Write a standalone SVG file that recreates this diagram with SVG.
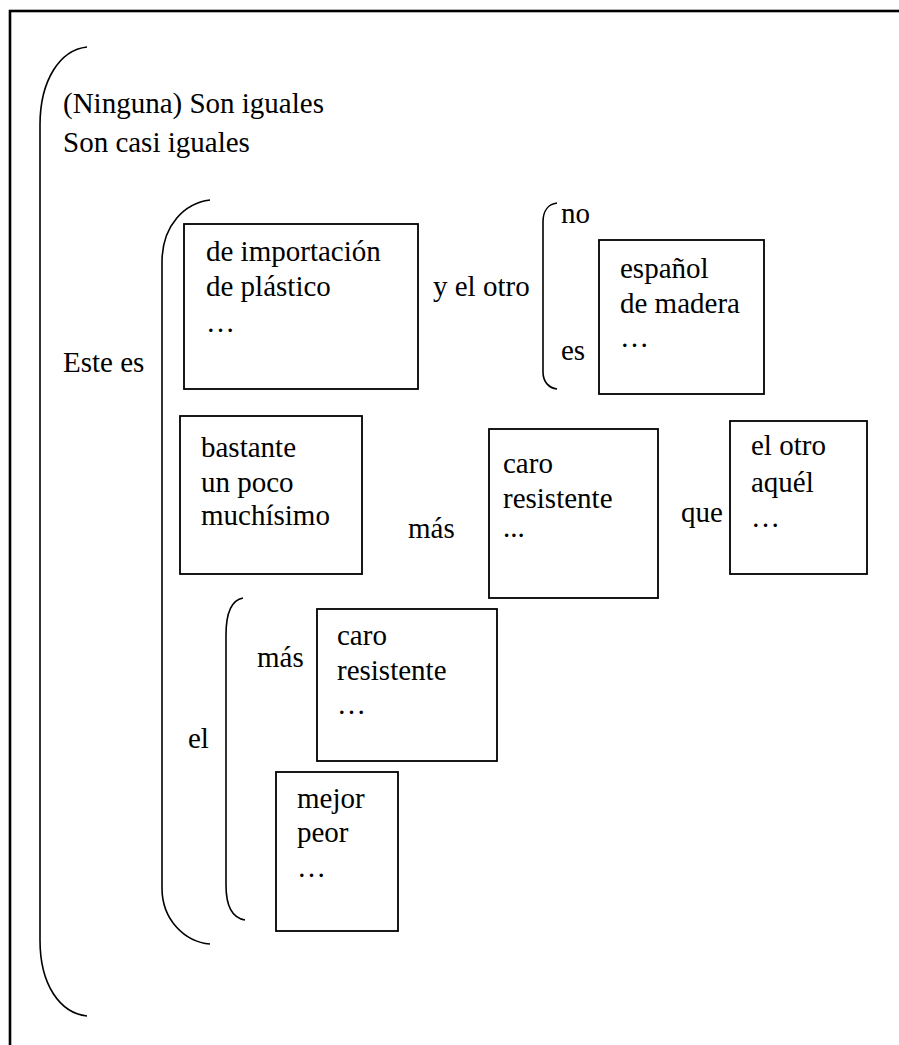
<svg xmlns="http://www.w3.org/2000/svg" width="899" height="1045" viewBox="0 0 899 1045">
  <style>
    .lbl { font-family: "Times New Roman", "Liberation Serif", Tinos, "Noto Serif", "DejaVu Serif", serif; font-size: 29px; fill: #000; }
    .box { fill: none; stroke: #000; stroke-width: 1.8; }
    .brace { fill: none; stroke: #000; stroke-width: 1.6; }
    .frame { fill: none; stroke: #000; stroke-width: 2.6; }
  </style>
  <rect width="899" height="1045" fill="#fff"/>
  <!-- page frame (right and bottom edges run off the sheet) -->
  <rect class="frame" x="10" y="11" width="910" height="1060"/>

  <!-- grouping brackets -->
  <g id="brackets">
    <path class="brace" d="M87,47 C60,50 40,80 40,125 V940 C40,985 60,1013 87,1016"/>
    <path class="brace" d="M210,200 C185,203 162,225 162,262 V888 C162,920 185,942 210,944"/>
    <path class="brace" d="M243,598 C232,600 226,612 226,635 V885 C226,905 232,918 245,920"/>
    <path class="brace" d="M557,203 C549,204 543,210 543,222 V372 C543,382 549,388 557,389"/>
  </g>

  <g class="lbl">
    <g id="intro">
      <text x="63" y="113">(Ninguna) Son iguales</text>
      <text x="63" y="152">Son casi iguales</text>
    </g>

    <g id="este-es">
      <text x="63" y="372">Este es</text>
    </g>

    <g id="box-origen">
      <rect class="box" x="184" y="224" width="234" height="165"/>
      <text x="206" y="261">de importación</text>
      <text x="206" y="296">de plástico</text>
      <text x="206" y="332">…</text>
    </g>

    <g id="y-el-otro">
      <text x="433" y="296">y el otro</text>
    </g>

    <g id="no-es">
      <text x="561" y="223">no</text>
      <text x="561" y="360">es</text>
    </g>

    <g id="box-material">
      <rect class="box" x="599" y="240" width="165" height="154"/>
      <text x="620" y="278">español</text>
      <text x="620" y="313">de madera</text>
      <text x="620" y="347">…</text>
    </g>

    <g id="box-grado">
      <rect class="box" x="180" y="416" width="182" height="158"/>
      <text x="201" y="457">bastante</text>
      <text x="201" y="492">un poco</text>
      <text x="201" y="525">muchísimo</text>
    </g>

    <g id="mas-1">
      <text x="408" y="538">más</text>
    </g>

    <g id="box-adjetivo">
      <rect class="box" x="489" y="429" width="169" height="169"/>
      <text x="503" y="473">caro</text>
      <text x="503" y="508">resistente</text>
      <text x="503" y="537">...</text>
    </g>

    <g id="que">
      <text x="681" y="522">que</text>
    </g>

    <g id="box-referente">
      <rect class="box" x="730" y="421" width="137" height="153"/>
      <text x="751" y="455">el otro</text>
      <text x="751" y="492">aquél</text>
      <text x="751" y="527">…</text>
    </g>

    <g id="el">
      <text x="188" y="748">el</text>
    </g>

    <g id="mas-2">
      <text x="257" y="667">más</text>
    </g>

    <g id="box-superlativo">
      <rect class="box" x="317" y="609" width="180" height="152"/>
      <text x="337" y="645">caro</text>
      <text x="337" y="680">resistente</text>
      <text x="337" y="714">…</text>
    </g>

    <g id="box-irregular">
      <rect class="box" x="276" y="772" width="122" height="159"/>
      <text x="297" y="808">mejor</text>
      <text x="297" y="842">peor</text>
      <text x="297" y="877">…</text>
    </g>
  </g>
</svg>
